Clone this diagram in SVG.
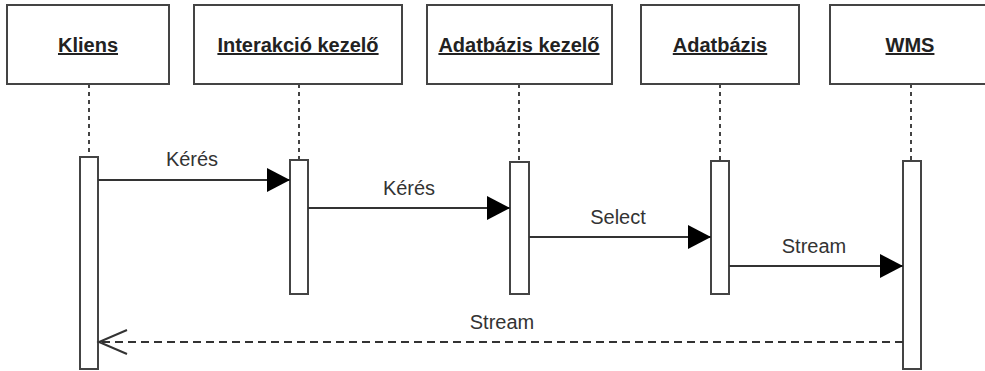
<svg xmlns="http://www.w3.org/2000/svg" width="985" height="371" viewBox="0 0 985 371">
<defs>
<style>
.box{fill:#fff;stroke:#444;stroke-width:2}
.act{fill:#fff;stroke:#444;stroke-width:2}
.life{stroke:#444;stroke-width:2;stroke-dasharray:4 4;fill:none}
.msg{stroke:#333;stroke-width:2;fill:none}
.ret{stroke:#333;stroke-width:2;fill:none;stroke-dasharray:8 5}
.title{font-family:"Liberation Sans",Arial,sans-serif;font-size:20px;font-weight:bold;fill:#222;text-anchor:middle;text-decoration:underline}
.lbl{font-family:"Liberation Sans",Arial,sans-serif;font-size:20px;fill:#333;text-anchor:middle}
</style>
<marker id="filled" markerWidth="24" markerHeight="24" refX="23" refY="12" orient="auto" markerUnits="userSpaceOnUse">
<path d="M0,0 L23,12 L0,24 Z" fill="#000"/>
</marker>
<marker id="open" markerWidth="32" markerHeight="28" refX="29" refY="13" orient="auto" markerUnits="userSpaceOnUse">
<path d="M1,1 L29,13 L1,25" fill="none" stroke="#333" stroke-width="2"/>
</marker>
</defs>
<rect width="985" height="371" fill="#fff"/>
<g id="kliens">
<rect class="box" x="7" y="5" width="162" height="79"/>
<text class="title" x="88" y="52">Kliens</text>
<line class="life" x1="89" y1="84" x2="89" y2="157"/>
<rect class="act" x="80" y="157" width="18" height="212"/>
</g>
<g id="interakcio">
<rect class="box" x="194" y="5" width="208" height="79"/>
<text class="title" x="298" y="52">Interakció kezelő</text>
<line class="life" x1="299" y1="84" x2="299" y2="160"/>
<rect class="act" x="290" y="160" width="18" height="134"/>
</g>
<g id="adatbazis-kezelo">
<rect class="box" x="427" y="5" width="185" height="79"/>
<text class="title" x="519" y="52">Adatbázis kezelő</text>
<line class="life" x1="519" y1="84" x2="519" y2="162"/>
<rect class="act" x="510" y="162" width="19" height="132"/>
</g>
<g id="adatbazis">
<rect class="box" x="641" y="5" width="158" height="79"/>
<text class="title" x="720" y="52">Adatbázis</text>
<line class="life" x1="720" y1="84" x2="720" y2="161"/>
<rect class="act" x="711" y="161" width="18" height="133"/>
</g>
<g id="wms">
<rect class="box" x="830" y="5" width="164" height="79"/>
<text class="title" x="910" y="52">WMS</text>
<line class="life" x1="911" y1="84" x2="911" y2="161"/>
<rect class="act" x="903" y="161" width="18" height="208"/>
</g>
<g id="connectors">
<line class="msg" x1="98" y1="180" x2="290" y2="180" marker-end="url(#filled)"/>
<text class="lbl" x="192" y="166">Kérés</text>
<line class="msg" x1="308" y1="208" x2="510" y2="208" marker-end="url(#filled)"/>
<text class="lbl" x="409" y="195">Kérés</text>
<line class="msg" x1="529" y1="237" x2="711" y2="237" marker-end="url(#filled)"/>
<text class="lbl" x="618" y="224">Select</text>
<line class="msg" x1="729" y1="266" x2="903" y2="266" marker-end="url(#filled)"/>
<text class="lbl" x="814" y="253">Stream</text>
<line class="ret" x1="903" y1="342" x2="99" y2="342" marker-end="url(#open)"/>
<text class="lbl" x="502" y="329">Stream</text>
</g>
</svg>
